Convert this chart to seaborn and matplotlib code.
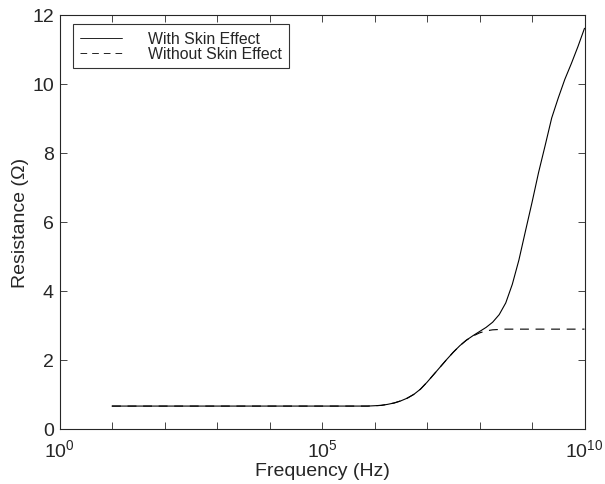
import numpy as np
import pandas as pd
import matplotlib
matplotlib.use("Agg")
import matplotlib.pyplot as plt
import seaborn as sns

# log10 of frequency (Hz)
log_freq = [1.0, 1.5, 2.0, 2.5, 3.0, 3.5, 4.0, 4.5, 5.0, 5.5, 5.75, 5.875,
            6.0, 6.125, 6.25, 6.375, 6.5, 6.625, 6.75, 6.875,
            7.0, 7.125, 7.25, 7.375, 7.5, 7.625, 7.75, 7.875,
            8.0, 8.125, 8.25, 8.375, 8.5, 8.625, 8.75, 8.875,
            9.0, 9.125, 9.25, 9.375, 9.5, 9.625, 9.75, 9.875, 10.0]
r_skin = [0.65, 0.65, 0.65, 0.65, 0.65, 0.65, 0.65, 0.65, 0.65, 0.65, 0.65, 0.65,
          0.66, 0.67, 0.70, 0.74, 0.80, 0.88, 0.99, 1.14,
          1.34, 1.56, 1.78, 2.00, 2.21, 2.40, 2.56, 2.69,
          2.81, 2.93, 3.08, 3.30, 3.64, 4.18, 4.88, 5.72,
          6.55, 7.42, 8.20, 9.00, 9.58, 10.12, 10.58, 11.07, 11.6]
r_noskin = [0.65, 0.65, 0.65, 0.65, 0.65, 0.65, 0.65, 0.65, 0.65, 0.65, 0.65, 0.65,
            0.66, 0.67, 0.70, 0.74, 0.80, 0.88, 0.99, 1.14,
            1.34, 1.56, 1.78, 2.00, 2.21, 2.40, 2.56, 2.68,
            2.77, 2.83, 2.86, 2.87, 2.88, 2.88, 2.88, 2.88,
            2.88, 2.88, 2.88, 2.88, 2.88, 2.88, 2.88, 2.88, 2.88]
series_names = ["With Skin Effect", "Without Skin Effect"]

freq = [10 ** v for v in log_freq]
df = pd.concat([
    pd.DataFrame({"f": freq, "R": r_skin, "series": series_names[0]}),
    pd.DataFrame({"f": freq, "R": r_noskin, "series": series_names[1]}),
])

sns.set_style("ticks")
plt.rcParams["font.family"] = ["Liberation Sans", "DejaVu Sans"]
plt.rcParams["mathtext.fontset"] = "custom"
plt.rcParams["mathtext.rm"] = "Liberation Sans"
plt.rcParams["mathtext.default"] = "regular"

fig = plt.figure(figsize=(6.05, 4.85), dpi=100)
ax = fig.add_axes([59.5 / 605, 1 - 429.5 / 485, 525 / 605, 414 / 485])

sns.lineplot(data=df, x="f", y="R", hue="series", style="series",
             palette=["black", "black"],
             dashes={series_names[0]: "", series_names[1]: (8, 6)},
             linewidth=0.8, ax=ax, legend=True)

ax.set_xscale("log")
ax.set_xlim(1, 1e10)
ax.set_ylim(0, 12)
ax.set_xticks([10.0 ** k for k in range(11)])
ax.set_xticklabels([r"$10^{%d}$" % k if k in (0, 5, 10) else "" for k in range(11)])
ax.xaxis.set_minor_locator(matplotlib.ticker.NullLocator())
ax.set_yticks(range(0, 13, 2))
ax.tick_params(direction="in", top=True, right=True, length=5, width=0.6,
               labelsize=14)
ax.tick_params(axis="x", pad=7)
ax.tick_params(axis="y", pad=4)
for s in ax.spines.values():
    s.set_visible(True)
    s.set_linewidth(0.8)
ax.set_xlabel("Frequency (Hz)", fontsize=14, labelpad=1)
ax.set_ylabel("Resistance (Ω)", fontsize=14, labelpad=2)

handles, labels = ax.get_legend_handles_labels()
leg = ax.legend(handles, labels, loc="upper left", bbox_to_anchor=(0.025, 0.977),
                fontsize=11.4, frameon=True, fancybox=False, edgecolor="black",
                handlelength=2.65, handletextpad=1.65, borderpad=0.45,
                labelspacing=0.0, borderaxespad=0)
leg.get_frame().set_linewidth(0.8)
for h in leg.get_lines():
    h.set_linewidth(0.6)

fig.savefig("out.png", dpi=100)
